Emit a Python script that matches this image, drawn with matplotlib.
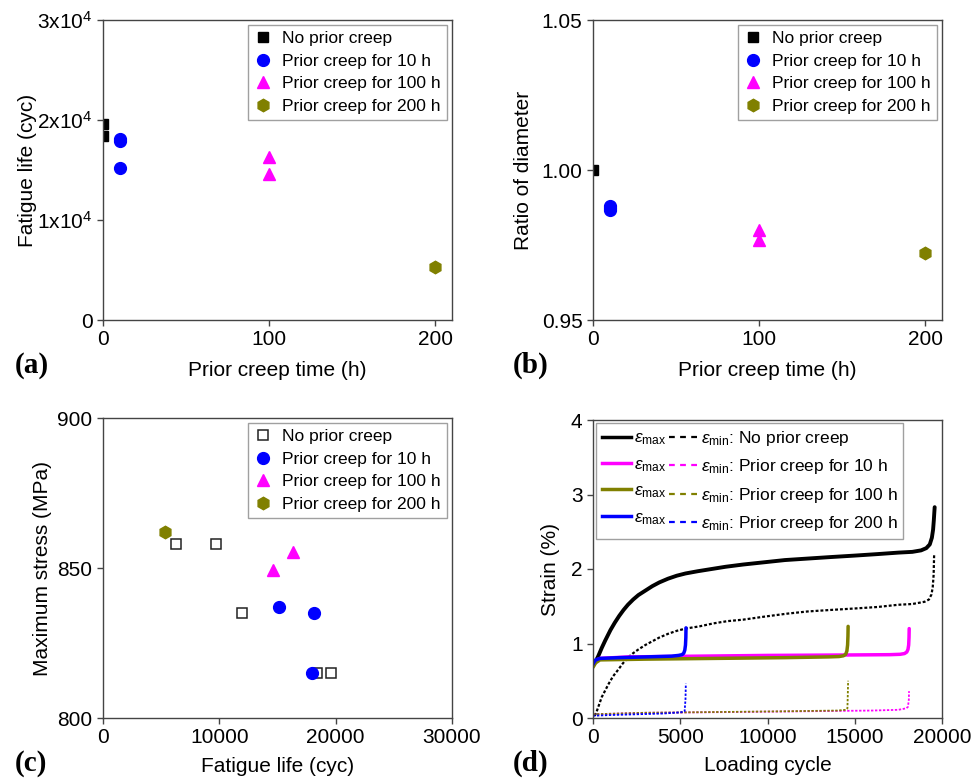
import matplotlib
matplotlib.use("Agg")
from matplotlib import pyplot as plt
from matplotlib.lines import Line2D

plt.rcParams['font.family'] = ['Liberation Sans', 'DejaVu Sans']
plt.rcParams['mathtext.fontset'] = 'custom'
plt.rcParams['mathtext.rm'] = 'Liberation Sans'
plt.rcParams['mathtext.it'] = 'Liberation Sans:italic'
plt.rcParams['mathtext.default'] = 'regular'

# (a), (b) fatigue life / diameter ratio vs prior creep time
time_none = [0, 0]
life_none_a = [19590, 18360]
ratio_none = [1.000]
time_10 = [10, 10, 10]
life_10 = [15160, 18130, 17930]
ratio_10 = [0.988, 0.9867, 0.9872]
time_100 = [100, 100]
life_100 = [14580, 16300]
ratio_100 = [0.9767, 0.980]
time_200 = [200]
life_200 = [5290]
ratio_200 = [0.9724]

# (c) maximum stress vs fatigue life
life_none_c = [6260, 9720, 11980, 18360, 19590]
stress_none = [858, 858, 835, 815, 815]
stress_10 = [837, 835, 815]
stress_100 = [849.4, 855.3]
stress_200 = [862]

# (d) strain vs loading cycle
cyc_none_max = [0, 150, 300, 500, 700, 1000, 1250, 1500, 1750, 2000, 2300, 2600, 3000, 3400,
                3800, 4300, 4800, 5300, 6000, 6800, 7600, 8600, 9800, 11000, 12300, 13600,
                15000, 16300, 17500, 18300, 18800, 19100, 19300, 19420, 19490, 19530, 19560, 19580]
eps_none_max = [0.70, 0.76, 0.83, 0.94, 1.04, 1.18, 1.28, 1.37, 1.45, 1.52, 1.59, 1.65, 1.71, 1.77,
                1.82, 1.87, 1.91, 1.94, 1.97, 2.00, 2.03, 2.06, 2.09, 2.12, 2.14, 2.16,
                2.18, 2.20, 2.22, 2.23, 2.25, 2.28, 2.33, 2.42, 2.53, 2.65, 2.76, 2.83]
cyc_none_min = [100, 200, 350, 500, 700, 900, 1150, 1450, 1700, 2000, 2300, 2600, 3000, 3400,
                3800, 4300, 4800, 5300, 6100, 6900, 7700, 8600, 9800, 11100, 12300, 13600,
                15000, 16300, 17500, 18300, 19000, 19250, 19400, 19470, 19520, 19550]
eps_none_min = [0.03, 0.08, 0.18, 0.28, 0.37, 0.46, 0.56, 0.65, 0.73, 0.81, 0.87, 0.92, 0.98, 1.03,
                1.08, 1.13, 1.17, 1.20, 1.23, 1.27, 1.30, 1.32, 1.36, 1.40, 1.43, 1.45,
                1.47, 1.49, 1.52, 1.53, 1.56, 1.59, 1.66, 1.76, 1.92, 2.20]

cyc_10_max = [0, 150, 400, 2000, 6000, 10000, 14000, 17000, 17600, 17850, 17980, 18050, 18090,
              18110, 18120]
eps_10_max = [0.72, 0.77, 0.80, 0.82, 0.83, 0.84, 0.845, 0.85, 0.855, 0.865, 0.885, 0.92, 0.98,
              1.08, 1.20]
cyc_10_min = [0, 3000, 8000, 12000, 16000, 17500, 17950, 18050, 18100, 18110]
eps_10_min = [0.05, 0.07, 0.08, 0.09, 0.10, 0.11, 0.13, 0.15, 0.25, 0.36]

cyc_100_max = [0, 150, 400, 3000, 7000, 11000, 13500, 14100, 14350, 14480, 14550, 14590, 14610,
               14620]
eps_100_max = [0.68, 0.74, 0.78, 0.79, 0.80, 0.81, 0.82, 0.825, 0.835, 0.855, 0.90, 0.98, 1.10,
               1.23]
cyc_100_min = [0, 3000, 7000, 11000, 14000, 14500, 14580, 14600, 14620]
eps_100_min = [0.05, 0.07, 0.08, 0.09, 0.10, 0.11, 0.13, 0.30, 0.50]

cyc_200_max = [0, 60, 150, 400, 1500, 3000, 4500, 4900, 5100, 5200, 5260, 5300, 5320, 5330]
eps_200_max = [0.72, 0.75, 0.78, 0.80, 0.81, 0.82, 0.83, 0.84, 0.85, 0.87, 0.91, 0.98, 1.08, 1.21]
cyc_200_min = [0, 1000, 2500, 4000, 5000, 5250, 5300, 5320]
eps_200_min = [0.03, 0.04, 0.05, 0.06, 0.075, 0.09, 0.25, 0.46]

labels = ['No prior creep', 'Prior creep for 10 h', 'Prior creep for 100 h', 'Prior creep for 200 h']
BLUE, MAG, OLIVE = '#0000ff', '#ff00ff', '#808000'

fig = plt.figure(figsize=(9.71, 7.80), dpi=100)
W, H = 349 / 971, 300 / 780
ax_a = fig.add_axes([103 / 971, 1 - 320 / 780, W, H])
ax_b = fig.add_axes([593 / 971, 1 - 320 / 780, W, H])
ax_c = fig.add_axes([103 / 971, 1 - 718 / 780, W, H])
ax_d = fig.add_axes([593 / 971, 1 - 718 / 780, W, 298 / 780])


def style(ax):
    for s in ax.spines.values():
        s.set_color('#444444')
        s.set_linewidth(1.0)
    ax.tick_params(direction='out', length=4, width=1, colors='#444444',
                   labelcolor='black', labelsize=15, top=False, right=False)


def legend_markers(ax):
    leg = ax.legend(loc='upper right', fontsize=12.5, frameon=True, fancybox=False,
                    edgecolor='#888888', borderaxespad=0.3, handletextpad=0.6,
                    labelspacing=0.42, borderpad=0.35, handlelength=1.0)
    leg.get_frame().set_linewidth(1.0)


ms = 8.5

# (a)
ax_a.plot(time_none, life_none_a, 's', color='black', ms=7.5, label=labels[0])
ax_a.plot(time_10, life_10, 'o', color=BLUE, ms=ms, label=labels[1])
ax_a.plot(time_100, life_100, '^', color=MAG, ms=ms + 0.5, label=labels[2])
ax_a.plot(time_200, life_200, 'h', color=OLIVE, ms=ms + 0.5, label=labels[3])
ax_a.set_xlim(0, 210)
ax_a.set_ylim(0, 30000)
ax_a.set_xticks([0, 100, 200])
ax_a.set_yticks([0, 10000, 20000, 30000])
ax_a.set_yticklabels(['0', '1x10$^4$', '2x10$^4$', '3x10$^4$'])
ax_a.set_xlabel('Prior creep time (h)', fontsize=15, labelpad=8)
ax_a.set_ylabel('Fatigue life (cyc)', fontsize=15, labelpad=0)
style(ax_a)
legend_markers(ax_a)

# (b)
ax_b.plot(time_none[:1], ratio_none, 's', color='black', ms=7.5, label=labels[0])
ax_b.plot(time_10, ratio_10, 'o', color=BLUE, ms=ms, label=labels[1])
ax_b.plot(time_100, ratio_100, '^', color=MAG, ms=ms + 0.5, label=labels[2])
ax_b.plot(time_200, ratio_200, 'h', color=OLIVE, ms=ms + 0.5, label=labels[3])
ax_b.set_xlim(0, 210)
ax_b.set_ylim(0.95, 1.05)
ax_b.set_xticks([0, 100, 200])
ax_b.set_yticks([0.95, 1.00, 1.05])
ax_b.set_yticklabels(['0.95', '1.00', '1.05'])
ax_b.set_xlabel('Prior creep time (h)', fontsize=15, labelpad=8)
ax_b.set_ylabel('Ratio of diameter', fontsize=15, labelpad=6)
style(ax_b)
legend_markers(ax_b)

# (c)
ax_c.plot(life_none_c, stress_none, 's', mfc='white', mec='#222222', mew=1.1, ms=7.5,
          label=labels[0])
ax_c.plot(life_10, stress_10, 'o', color=BLUE, ms=ms, label=labels[1])
ax_c.plot(life_100, stress_100, '^', color=MAG, ms=ms + 0.5, label=labels[2])
ax_c.plot(life_200, stress_200, 'h', color=OLIVE, ms=ms + 0.5, label=labels[3])
ax_c.set_xlim(0, 30000)
ax_c.set_ylim(800, 900)
ax_c.set_xticks([0, 10000, 20000, 30000])
ax_c.set_yticks([800, 850, 900])
ax_c.set_xlabel('Fatigue life (cyc)', fontsize=15, labelpad=7)
ax_c.set_ylabel('Maximum stress (MPa)', fontsize=15, labelpad=4)
style(ax_c)
legend_markers(ax_c)

# (d)
curves = [
    ('black', cyc_none_max, eps_none_max, cyc_none_min, eps_none_min, 2.8),
    (MAG, cyc_10_max, eps_10_max, cyc_10_min, eps_10_min, 2.5),
    (OLIVE, cyc_100_max, eps_100_max, cyc_100_min, eps_100_min, 2.5),
    (BLUE, cyc_200_max, eps_200_max, cyc_200_min, eps_200_min, 2.5),
]
for col, xm, ym, xn, yn, lw in curves:
    ax_d.plot(xm, ym, '-', color=col, lw=lw, solid_capstyle='round', solid_joinstyle='round')
    dlw = 1.6 if col == 'black' else 1.3
    ax_d.plot(xn, yn, '-', color=col, lw=dlw, dashes=(1.3, 0.9))
ax_d.set_xlim(0, 20000)
ax_d.set_ylim(0, 4)
ax_d.set_xticks([0, 5000, 10000, 15000, 20000])
ax_d.set_yticks([0, 1, 2, 3, 4])
ax_d.set_xlabel('Loading cycle', fontsize=15, labelpad=6)
ax_d.set_ylabel('Strain (%)', fontsize=15, labelpad=8)
style(ax_d)

solid_h, dash_h, max_l, min_l = [], [], [], []
for (col, *_), lab in zip(curves, labels):
    solid_h.append(Line2D([], [], color=col, lw=2.5))
    dash_h.append(Line2D([], [], color=col, lw=1.6, dashes=(2.6, 2.4)))
    max_l.append(r'$\mathit{\varepsilon}_{\mathrm{max}}$')
    min_l.append(r'$\mathit{\varepsilon}_{\mathrm{min}}$: ' + lab)
leg = ax_d.legend(solid_h + dash_h, max_l + min_l, ncol=2, loc='upper left', fontsize=12.5,
                  frameon=True, fancybox=False, edgecolor='#888888', borderaxespad=0.2,
                  handlelength=1.7, handletextpad=0.15, columnspacing=0.15,
                  labelspacing=0.55, borderpad=0.3)
leg.get_frame().set_linewidth(1.0)

# panel labels
for x, y, t in [(15, 373, '(a)'), (513, 373, '(b)'), (15, 771, '(c)'), (513, 771, '(d)')]:
    fig.text(x / 971, 1 - y / 780, t, fontsize=21, fontweight='bold',
             family='Liberation Serif', va='baseline', ha='left')

fig.savefig('out.png', dpi=100)
